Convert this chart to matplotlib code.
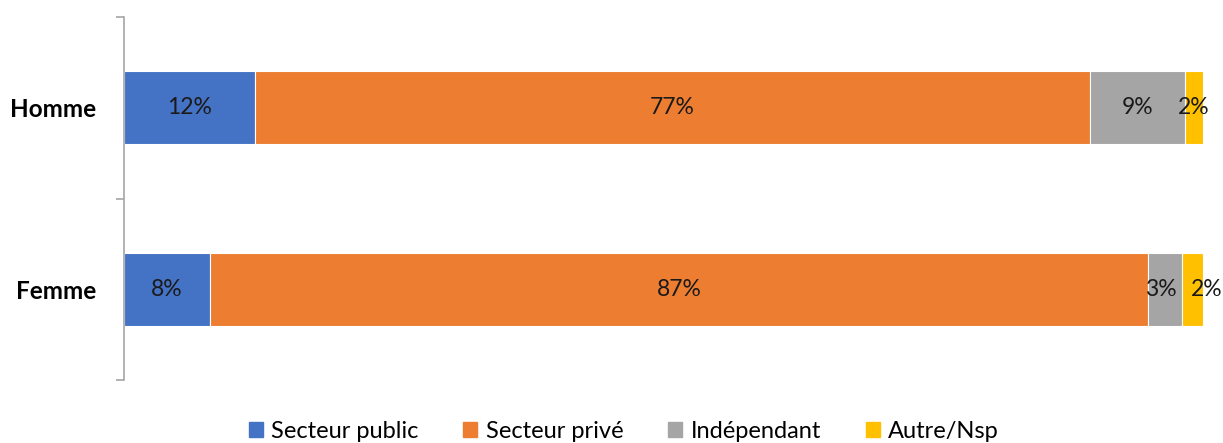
import matplotlib
matplotlib.use("Agg")
import matplotlib.pyplot as plt
from matplotlib.patches import Patch

plt.rcParams['font.family'] = ['Lato', 'DejaVu Sans']

groups = ['Femme', 'Homme']
series = ['Secteur public', 'Secteur privé', 'Indépendant', 'Autre/Nsp']
colors = ['#4472C4', '#ED7D31', '#A5A5A5', '#FFC000']
values = {
    'Secteur public': [8.0, 12.1],
    'Secteur privé': [86.9, 77.4],
    'Indépendant': [3.2, 8.8],
    'Autre/Nsp': [1.9, 1.7],
}
# small labels nudged sideways (points) so they don't collide
nudge = {(0, 'Indépendant'): -3, (0, 'Autre/Nsp'): 10}

fig = plt.figure(figsize=(12.23, 4.43), dpi=100)
ax = fig.add_axes([124 / 1223, 63 / 443, (1203 - 124) / 1223, 363 / 443])

y = range(len(groups))
left = [0.0] * len(groups)
for name, col in zip(series, colors):
    vals = values[name]
    ax.barh(y, vals, left=left, height=0.4, color=col, edgecolor='white', linewidth=0.8)
    for i, v in enumerate(vals):
        dx = nudge.get((i, name), 0)
        ax.annotate(f'{v:.0f}%', (left[i] + v / 2, i), xytext=(dx, 0), textcoords='offset points',
                    ha='center', va='center', fontsize=16.5, color='#1a1a1a')
    left = [l + v for l, v in zip(left, vals)]

ax.set_xlim(0, 100)
ax.set_ylim(-0.5, 1.5)
ax.set_xticks([])
ax.set_yticks([-0.5, 0.5, 1.5])
ax.set_yticklabels([])
ax.set_yticks([0, 1], minor=True)
ax.set_yticklabels(groups, minor=True, fontsize=17.5, fontweight='bold')
ax.tick_params(axis='y', which='major', length=6, width=1.2, color='#A6A6A6', direction='out')
ax.tick_params(axis='y', which='minor', length=0, pad=20)
for s in ['top', 'right', 'bottom']:
    ax.spines[s].set_visible(False)
ax.spines['left'].set_color('#A6A6A6')
ax.spines['left'].set_linewidth(1.2)

handles = [Patch(color=c, label=n) for n, c in zip(series, colors)]
fig.legend(handles=handles, loc='lower center', bbox_to_anchor=(0.51, -0.045), ncol=4,
           frameon=False, fontsize=17, handlelength=0.6, handleheight=0.6,
           handletextpad=0.35, columnspacing=1.9)

fig.savefig('out.png', dpi=100)
